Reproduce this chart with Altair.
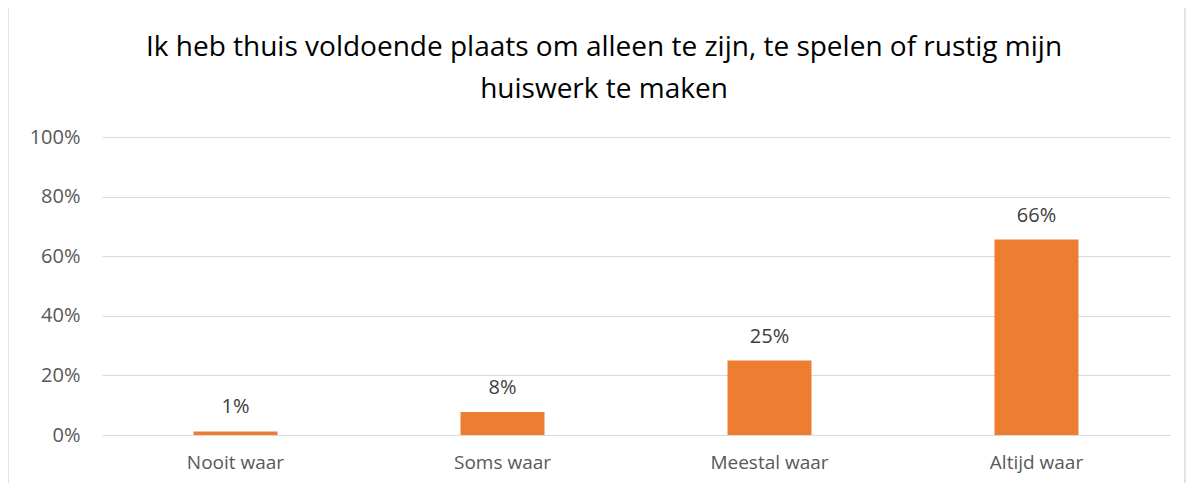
import altair as alt
import pandas as pd

categories = ["Nooit waar", "Soms waar", "Meestal waar", "Altijd waar"]
values = [0.012, 0.077, 0.25, 0.656]
y_ticks = [0, 0.2, 0.4, 0.6, 0.8, 1.0]
title_lines = ["Ik heb thuis voldoende plaats om alleen te zijn, te spelen of rustig mijn", "huiswerk te maken"]

df = pd.DataFrame({"cat": categories, "val": values})

FONT = "Open Sans"

x = alt.X("cat:N", sort=categories, title=None,
          scale=alt.Scale(paddingInner=0, paddingOuter=0),
          axis=alt.Axis(labelAngle=0, domain=False, ticks=False, labelPadding=18,
                        labelFontSize=19, labelColor="#595959", labelFont=FONT))
y = alt.Y("val:Q", title=None,
          scale=alt.Scale(domain=[0, 1]),
          axis=alt.Axis(values=y_ticks, format=".0%", domain=False, ticks=False,
                        labelPadding=22, labelFontSize=20, labelColor="#595959",
                        labelFont=FONT, gridColor="#D9D9D9", gridWidth=1))

frame = alt.Chart(pd.DataFrame({"k": [0]})).mark_rect(
    fill=None, stroke="#D9D9D9", strokeWidth=1.5).encode(
    x=alt.value(-94), x2=alt.value(1083), y=alt.value(-132), y2=alt.value(400))

bars = alt.Chart(df).mark_bar(color="#ED7D31", size=84).encode(x=x, y=y)
labels = alt.Chart(df).mark_text(baseline="bottom", dy=-14, fontSize=20,
                                 color="#404040", font=FONT).encode(
    x=alt.X("cat:N", sort=categories),
    y="val:Q",
    text=alt.Text("val:Q", format=".0%"))

chart = alt.layer(frame, bars, labels).properties(
    width=1068, height=298,
    title=alt.TitleParams(title_lines, anchor="middle", fontSize=28, font=FONT,
                          fontWeight="normal", color="#000000", lineHeight=42,
                          offset=-100, dx=-32, frame="group"),
    padding={"left": 94, "top": 129, "right": 16, "bottom": 48},
    autosize=alt.AutoSizeParams(type="none"),
).configure_view(stroke=None)

chart.save("out.html", embed_options={"renderer": "svg", "actions": False})
